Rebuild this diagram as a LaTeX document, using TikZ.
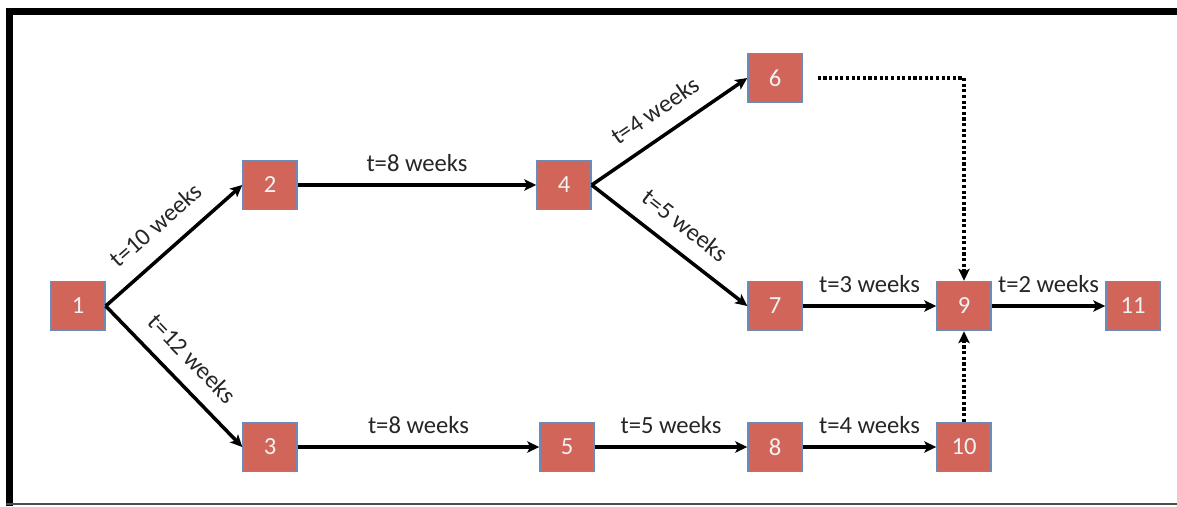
\documentclass[tikz,border=0pt]{standalone}
\usepackage{fontspec}
\setmainfont{Carlito}
\usetikzlibrary{arrows.meta}

\definecolor{boxred}{RGB}{209,101,90}
\definecolor{boxedge}{RGB}{105,140,185}
\definecolor{labelgray}{RGB}{38,38,38}

\begin{document}
\begin{tikzpicture}[x=0.01cm, y=-0.01cm, line width=1pt,
    task/.style={draw=boxedge, line width=0.4pt, fill=boxred, text=white!95!black,
      minimum width=0.54cm, minimum height=0.49cm, inner sep=0pt, font=\fontsize{7}{8}\selectfont},
    link/.style={-{Stealth[length=3.4pt, width=3.2pt, inset=0.8pt]}},
    wait/.style={link, dash pattern=on 0.9pt off 0.7pt},
    dur/.style={text=labelgray, font=\fontsize{7}{8}\selectfont}]
  \useasboundingbox (0,0) rectangle (1177,506);

  % frame
  \draw[line width=2pt] (9.5,506) -- (9.5,11.5) -- (1177,11.5);
  \draw[line width=0.6pt, black!70] (6,504) -- (1177,504);

  % tasks
  \node[task] (n1) at (78,306) {1};
  \node[task] (n2) at (270,185) {2};
  \node[task] (n3) at (270,447) {3};
  \node[task] (n4) at (564,185) {4};
  \node[task] (n5) at (567,447) {5};
  \node[task] (n6) at (775,78) {6};
  \node[task] (n7) at (775,306) {7};
  \node[task] (n8) at (775,447) {8};
  \node[task] (n9) at (964,306) {9};
  \node[task] (n10) at (964,447) {10};
  \node[task] (n11) at (1133,306) {11};

  % durations
  \draw[link] (n1.east) -- (n2.west) node[dur, midway, above, sloped, yshift=1.5pt] {t=10 weeks};
  \draw[link] (n1.east) -- (n3.west) node[dur, midway, above, sloped, yshift=1pt] {t=12 weeks};
  \draw[link] (n2) -- (n4) node[dur, midway, above] {t=8 weeks};
  \draw[link] (n4.east) -- (n6.west) node[dur, midway, above, sloped, yshift=1pt] {t=4 weeks};
  \draw[link] (n4.east) -- (n7.west) node[dur, midway, above, sloped, yshift=1pt] {t=5 weeks};
  \draw[link] (n7) -- (n9) node[dur, midway, above] {t=3 weeks};
  \draw[link] (n9) -- (n11) node[dur, midway, above] {t=2 weeks};
  \draw[link] (n3) -- (n5) node[dur, midway, above] {t=8 weeks};
  \draw[link] (n5) -- (n8) node[dur, midway, above] {t=5 weeks};
  \draw[link] (n8) -- (n10) node[dur, midway, above] {t=4 weeks};

  % dummy links
  \draw[wait, shorten <=0.15cm] (n6.east) -| (n9.north);
  \draw[wait] (n10) -- (n9);
\end{tikzpicture}
\end{document}
